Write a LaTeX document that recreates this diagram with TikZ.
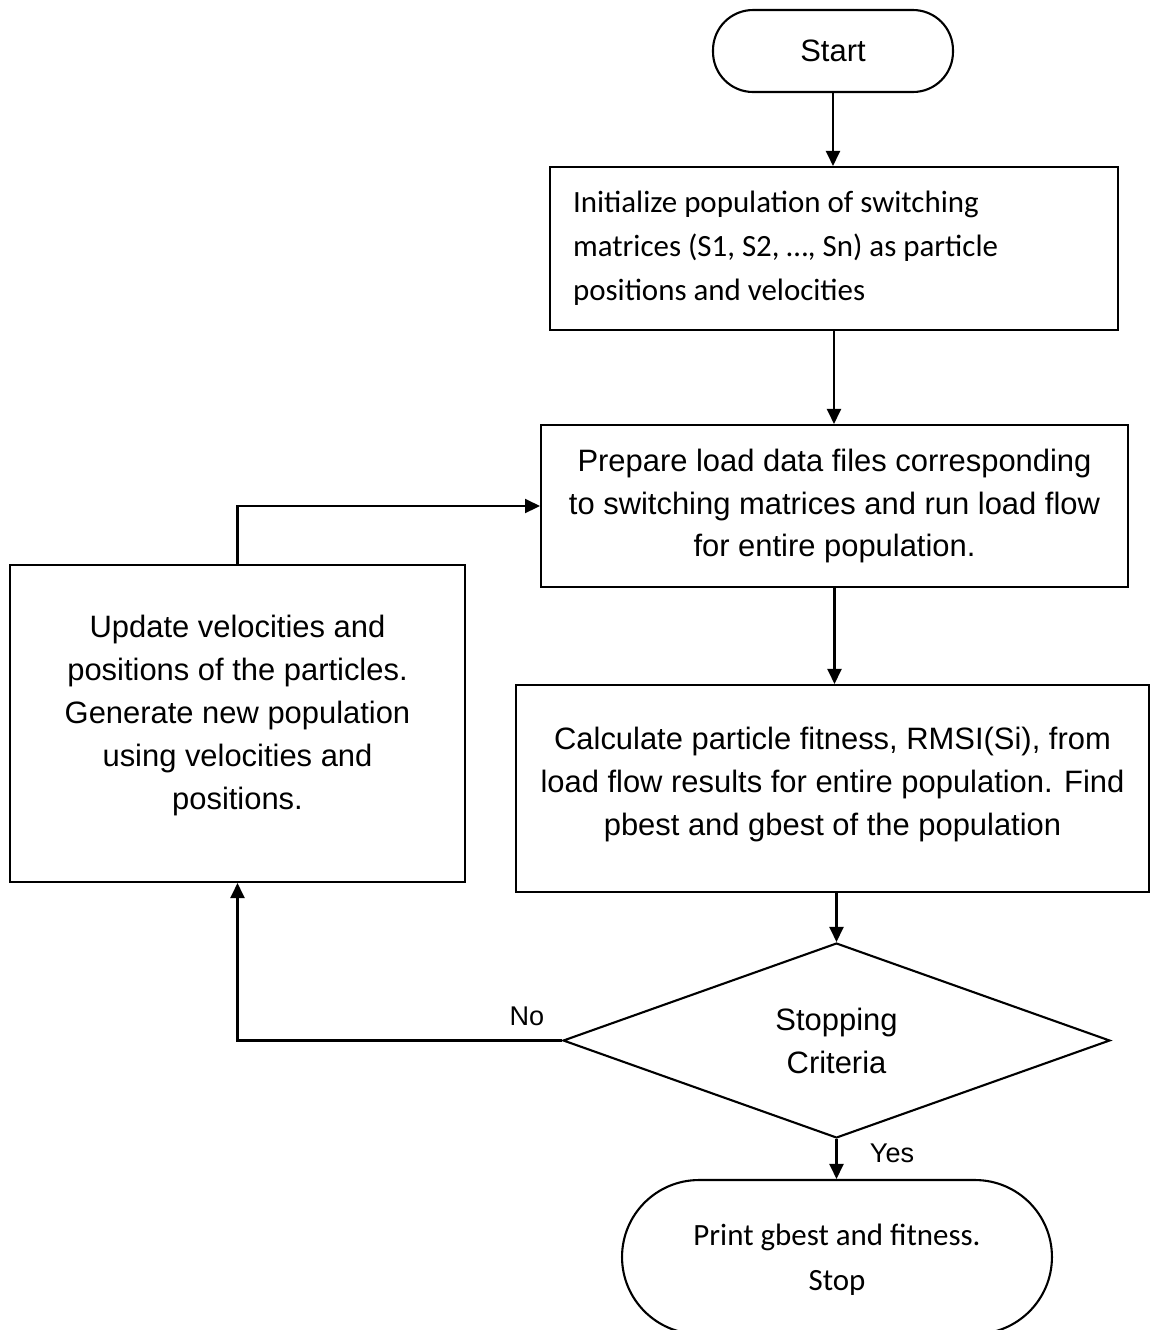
\documentclass[tikz,border=0pt]{standalone}
\usepackage{fontspec}
\setmainfont{Liberation Sans}
\newfontfamily\calibri{Carlito}
\usetikzlibrary{shapes.geometric}
\usetikzlibrary{arrows.meta}

\begin{document}
\begin{tikzpicture}[x=0.02cm, y=-0.02cm,
    every node/.style={font=\fontsize{17.6}{24.4}\selectfont},
    box/.style={draw, line width=1.2pt, inner sep=0pt, align=center},
    term/.style={box, rounded corners=#1},
    lbl/.style={font=\fontsize{15.4}{18}\selectfont},
    arr/.style={line width=1.2pt, -{Triangle[length=0.3cm,width=0.28cm]}}]
  \useasboundingbox (0,0) rectangle (1151,1330);
  % main column
  \node[term=0.8cm, minimum width=4.8cm, minimum height=1.64cm] (start) at (833,51) {Start};
  \node[box, align=flush left, text width=10.44cm, inner xsep=0.46cm, minimum height=3.26cm,
        font=\calibri\fontsize{17.6}{25}\selectfont] (init) at (834,248.5)
        {Initialize population of switching\\ matrices (S1, S2, …, Sn) as particle\\ positions and velocities};
  \node[box, minimum width=11.74cm, minimum height=3.24cm] (prep) at (834.5,506)
        {Prepare load data files corresponding\\ to switching matrices and run load flow\\ for entire population.};
  \node[box, minimum width=12.66cm, minimum height=4.14cm, text depth=0.3cm] (fit) at (832.5,788.5)
        {Calculate particle fitness, RMSI(Si), from\\ load flow results for entire population. Find\\ pbest and gbest of the population};
  \node[box, shape=diamond, aspect=2.8, minimum width=10.94cm, minimum height=3.9cm] (crit) at (836.5,1040.5)
        {Stopping\\ Criteria};
  \node[term=1.54cm, minimum width=8.6cm, minimum height=3.08cm, text depth=0pt,
        font=\calibri\fontsize{17.6}{25.5}\selectfont] (stop) at (837,1257)
        {Print gbest and fitness.\\ Stop};
  % loop back
  \node[box, minimum width=9.1cm, minimum height=6.34cm, text depth=0.45cm] (upd) at (237.5,723.5)
        {Update velocities and\\ positions of the particles.\\ Generate new population\\ using velocities and\\ positions.};
  \node[lbl] (no) at (527,1016) {No};
  \node[lbl] (yes) at (892,1153) {Yes};

  \draw[arr] (start) -- (start |- init.north);
  \draw[arr] (init) -- (init |- prep.north);
  \draw[arr] (prep) -- (prep |- fit.north);
  \draw[arr] (fit.south -| crit) -- (crit.north);
  \draw[arr] (crit.south) -- (crit.south |- stop.north);
  \draw[arr] (crit.west) -| (upd.south);
  \draw[arr] (upd.north) |- (prep.west);
\end{tikzpicture}
\end{document}
